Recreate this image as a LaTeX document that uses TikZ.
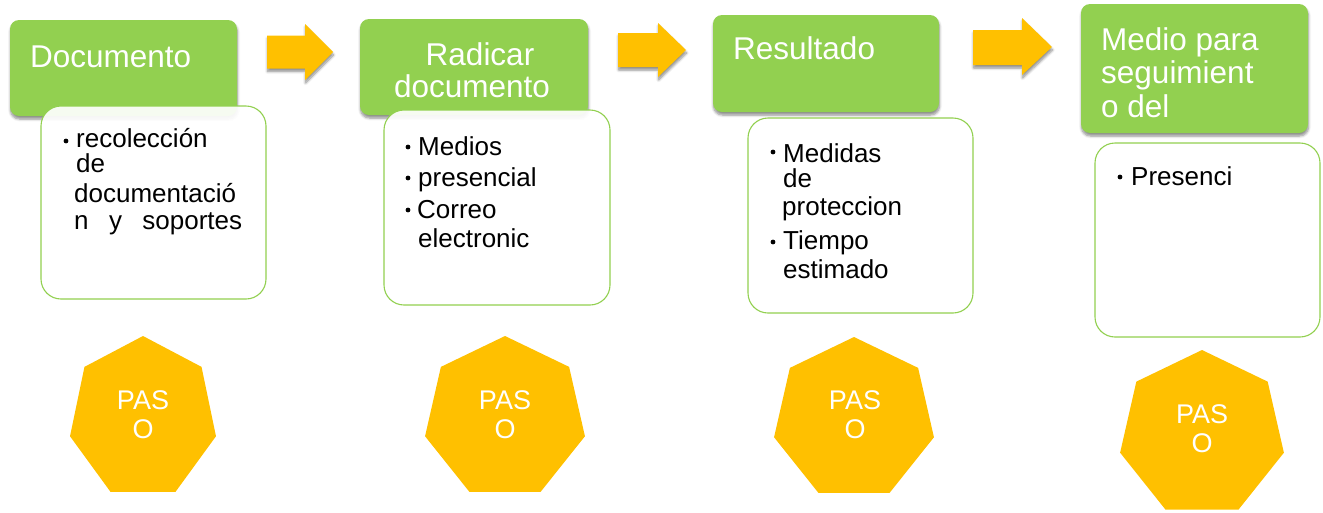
\documentclass[tikz,border=0pt]{standalone}
\usepackage{fontspec}
\setmainfont{Liberation Sans}
\usetikzlibrary{shadows.blur}
\definecolor{grn}{HTML}{92D050}
\definecolor{org}{HTML}{FFC000}
\newcommand\ttlfont{\fontsize{31.5}{34}\selectfont}
\newcommand\bdyfont{\fontsize{26}{30}\selectfont}
\newcommand\pasfont{\fontsize{27}{29}\selectfont}
\tikzset{
  shad/.style={blur shadow={shadow xshift=0.5pt, shadow yshift=-3pt, shadow blur steps=6, shadow opacity=45, shadow blur radius=2.5pt}},
  titlebox/.style={draw=none, fill=grn, rounded corners=9pt, inner sep=0pt, shad},
  listbox/.style={draw=grn, line width=1.1pt, fill=white, fill opacity=0.92, rounded corners=20pt, inner sep=0pt},
  ttl/.style={text=white, font=\ttlfont, inner sep=0pt},
  ttlw/.style={ttl, anchor=base west},
  bdy/.style={text=black, font=\bdyfont, inner sep=0pt, anchor=base west},
  bul/.style={fill=black},
  arr/.style={fill=org, shad},
  hept/.style={fill=org},
  pas/.style={text=white, font=\pasfont, inner sep=0pt, anchor=base},
}
\newcommand\heptshape[4]{%
  \path[hept, shift={(#1,#2)}, xscale=#4] (-90:#3) -- (-141.43:#3) -- (-192.86:#3) -- (-244.29:#3) -- (-295.71:#3) -- (-347.14:#3) -- (-38.57:#3) -- cycle;}
\begin{document}
\begin{tikzpicture}[x=1pt,y=-1pt]
\useasboundingbox (0,0) rectangle (1323,512);

% arrows
\path[arr] (267,35.5) -- (305,35.5) -- (305,24) -- (333,52) -- (305,80) -- (305,68.5) -- (267,68.5) -- cycle;
\path[arr] (618,33) -- (658,33) -- (658,23) -- (686,50) -- (658,77) -- (658,67) -- (618,67) -- cycle;
\path[arr] (973,30) -- (1022,30) -- (1022,18) -- (1052,47) -- (1022,75) -- (1022,65) -- (973,65) -- cycle;

% title boxes
\node[titlebox, minimum width=227pt, minimum height=96pt] (g1) at (123.5,68) {};
\node[titlebox, minimum width=228pt, minimum height=96pt] (g2) at (474,67) {};
\node[titlebox, minimum width=226pt, minimum height=97pt] (g3) at (826,63.5) {};
\node[titlebox, minimum width=227pt, minimum height=129pt] (g4) at (1194.5,68.5) {};

\node[ttlw] (t1) at (30,67) {Documento};
\node[ttl, anchor=base] (t2a) at (480,65) {Radicar};
\node[ttl, anchor=base] (t2b) at (472,97) {documento};
\node[ttlw] (t3) at (733,59) {Resultado};
\node[ttlw] (t4a) at (1101,50) {Medio para};
\node[ttlw] (t4b) at (1101,83.5) {seguimient};
\node[ttlw] (t4c) at (1101,117) {o del};

% list boxes
\node[listbox, minimum width=225pt, minimum height=193pt] (w1) at (153.5,202.5) {};
\node[listbox, minimum width=226pt, minimum height=195pt] (w2) at (497,207.5) {};
\node[listbox, minimum width=225pt, minimum height=195pt] (w3) at (860.5,215.5) {};
\node[listbox, minimum width=225pt, minimum height=194pt] (w4) at (1207.5,240) {};

% list 1
\fill[bul] (66,141) circle (2.4);
\node[bdy] (l1a) at (76,147) {recolección};
\node[bdy] (l1b) at (76,172) {de};
\node[bdy] (l1c) at (74,202) {documentació};
\node[bdy] (l1d) at (74,229) {\hbox to 168pt{n\hfil y\hfil soportes}};

% list 2
\fill[bul] (408,147) circle (2.4);
\fill[bul] (408,178) circle (2.4);
\fill[bul] (408,210) circle (2.4);
\node[bdy] (l2a) at (418,155) {Medios};
\node[bdy] (l2b) at (418,186) {presencial};
\node[bdy] (l2c) at (417,218) {Correo};
\node[bdy] (l2d) at (418,247) {electronic};

% list 3
\fill[bul] (773,152) circle (2.4);
\fill[bul] (773,242) circle (2.4);
\node[bdy] (l3a) at (783,162) {Medidas};
\node[bdy] (l3b) at (783,187) {de};
\node[bdy] (l3c) at (782,215) {proteccion};
\node[bdy] (l3d) at (783,249) {Tiempo};
\node[bdy] (l3e) at (783,278) {estimado};

% list 4
\fill[bul] (1120,177) circle (2.4);
\node[bdy] (l4a) at (1131,185) {Presenci};

% heptagons
\heptshape{143}{418}{82}{0.913}
\heptshape{505}{418}{82}{1}
\heptshape{854}{419}{82}{1}
\heptshape{1202}{434}{84}{1}

\node[pas] (p1a) at (143,409) {PAS};
\node[pas] (p1b) at (143,438) {O};
\node[pas] (p2a) at (505,409) {PAS};
\node[pas] (p2b) at (505,438) {O};
\node[pas] (p3a) at (855,409) {PAS};
\node[pas] (p3b) at (855,438) {O};
\node[pas] (p4a) at (1202,423) {PAS};
\node[pas] (p4b) at (1202,452) {O};
\end{tikzpicture}
\end{document}
